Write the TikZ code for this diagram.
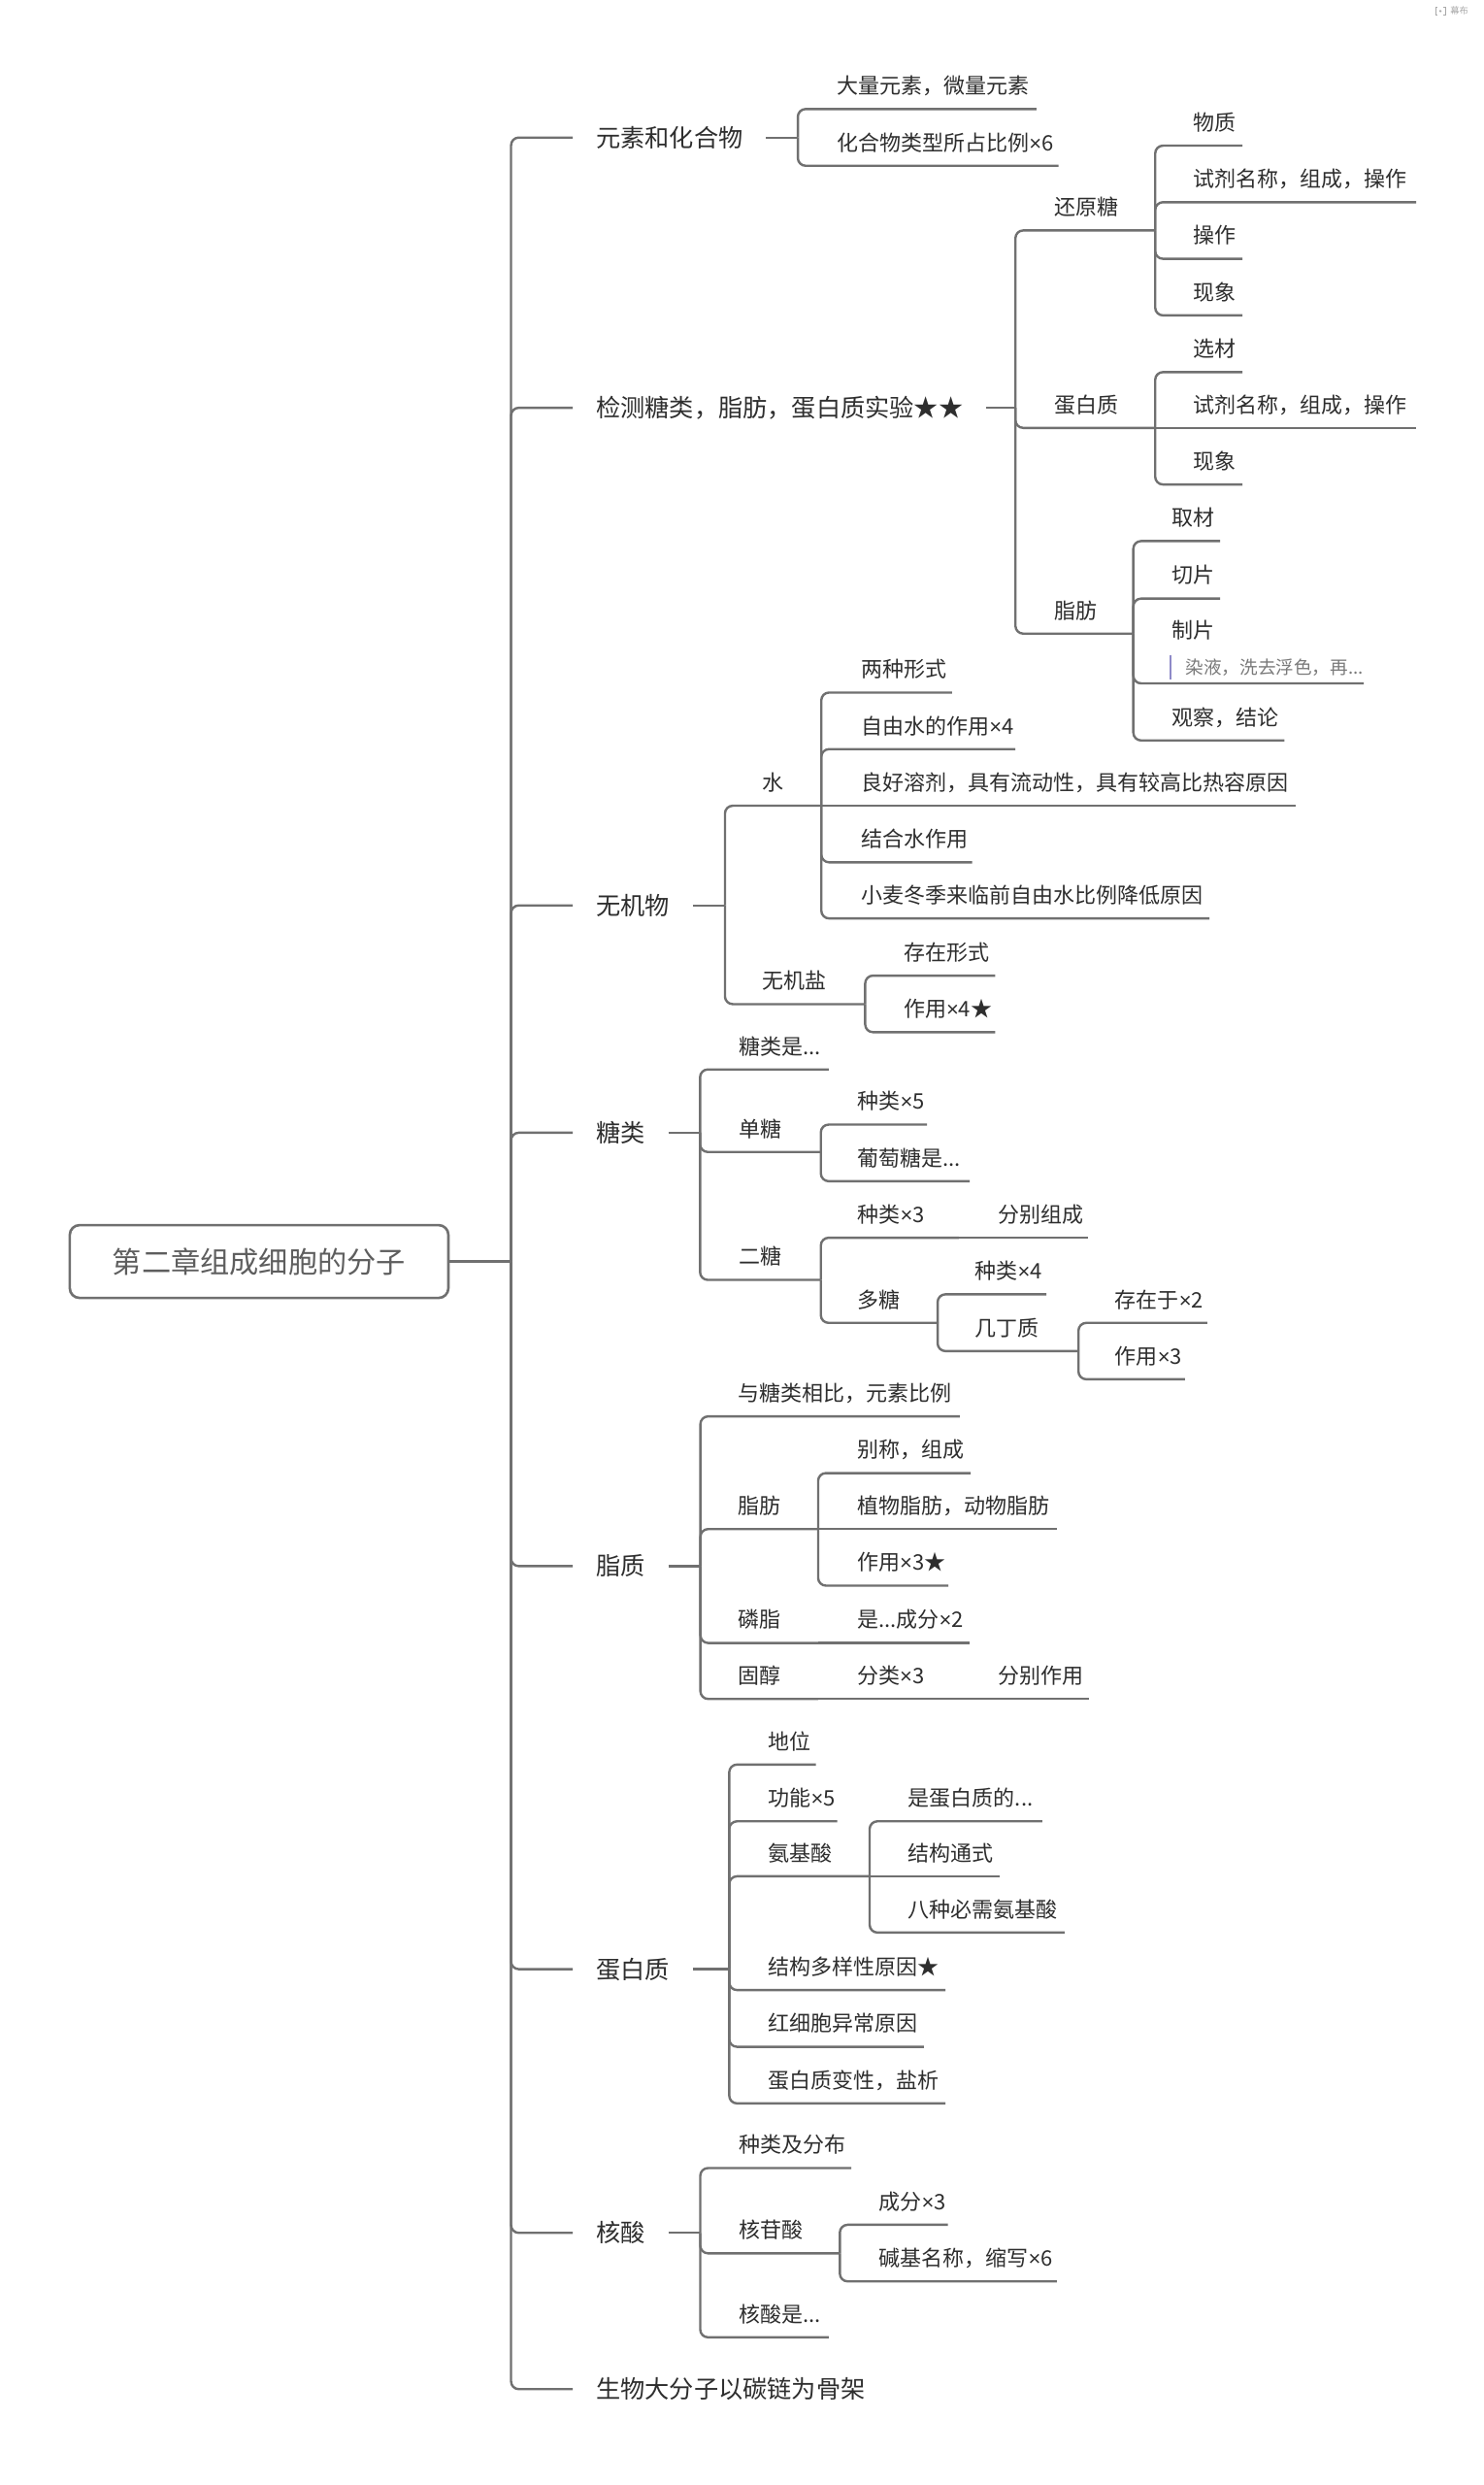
\documentclass[tikz,border=0pt]{standalone}
\usepackage{fontspec}
\newfontfamily\cjk{Noto Sans CJK SC}
\newfontfamily\latf{Liberation Sans}
\newcommand\tms{{\latf ×}}
\definecolor{lg}{HTML}{707070}
\definecolor{txc}{HTML}{2E2E2E}
\definecolor{rtc}{HTML}{5E5E5E}
\definecolor{ntc}{HTML}{7A7A7A}
\definecolor{barc}{HTML}{8E8AC8}
\definecolor{wmc}{HTML}{A8A8A8}
\tikzset{
 ln/.style={draw=lg, line width=1.2pt},
 br/.style={ln, rounded corners=4pt},
 tone/.style={font={\cjk\fontsize{12.6}{15}\selectfont}, text=txc, anchor=west, inner ysep=0pt, inner xsep=11.8pt, text height=10.4pt, text depth=0.9pt},
 ttwo/.style={font={\cjk\fontsize{11}{13}\selectfont}, text=txc, anchor=west, inner sep=0pt, text height=9.1pt, text depth=0.8pt},
 rootbox/.style={draw=lg, line width=1.3pt, rounded corners=5pt, minimum width=195pt, minimum height=37.5pt, font={\cjk\fontsize{15.1}{18}\selectfont}, text=rtc, inner sep=0pt},
 notetext/.style={font={\cjk\fontsize{9.3}{11}\selectfont}, text=ntc, anchor=west, inner sep=0pt, text height=7.7pt, text depth=0.7pt},
}
\newcommand\lone[3]{\node[tone] (#1) at (361.5,#2) {#3}; \draw[br] (J0) |- (#1.west);}
\newcommand\kid[6]{\node[ttwo] (#1) at (#3,{#4-14.7}) {#6}; \coordinate (#1-e) at (#5,#4); \draw[br] (#2) |- (#1-e);}
\newcommand\kids[6]{\node[ttwo] (#1) at (#3,{#4-14.7}) {#6}; \coordinate (#1-e) at (#5,#4); \draw[ln] (#2) -- (#1-e);}
\begin{document}
\begin{tikzpicture}[x=0.81625pt, y=-0.81625pt]
\useasboundingbox (0,0) rectangle (936,1568);
\fill[white] (0,0) rectangle (936,1568);
% watermark
\draw[wmc, line width=0.5pt] (907,4.5) -- (906,4.5) -- (906,9.5) -- (907,9.5);
\draw[wmc, line width=0.5pt] (911,4.5) -- (912,4.5) -- (912,9.5) -- (911,9.5);
\fill[wmc] (909,7) circle (0.8);
\node[font={\cjk\fontsize{4.6}{5}\selectfont}, text=wmc, inner sep=0pt, anchor=west] (wm) at (915,7) {幕布};
% root
\node[rootbox] (root) at (163.5,796) {第二章组成细胞的分子};
\coordinate (J0) at (322.5,796);
\draw[ln] (root.east) -- (J0);
% level 1
\lone{a}{86.8}{元素和化合物}
\lone{b}{257.3}{检测糖类，脂肪，蛋白质实验★★}
\lone{c}{571.3}{无机物}
\lone{d}{714.7}{糖类}
\lone{e}{988.2}{脂质}
\lone{f}{1242.5}{蛋白质}
\lone{g}{1408.9}{核酸}
\lone{h}{1507.5}{生物大分子以碳链为骨架}
\coordinate (Ja) at (503.5,86.8);
\coordinate (Jb) at (640.8,257.3);
\coordinate (Jc) at (457.5,571.3);
\coordinate (Jd) at (441.8,714.7);
\coordinate (Je) at (442,988.2);
\coordinate (Jf) at (460.2,1242.5);
\coordinate (Jg) at (441.9,1408.9);
\draw[ln] (a.east) -- (Ja);
\draw[ln] (b.east) -- (Jb);
\draw[ln] (c.east) -- (Jc);
\draw[ln] (d.east) -- (Jd);
\draw[ln] (e.east) -- (Je);
\draw[ln] (f.east) -- (Jf);
\draw[ln] (g.east) -- (Jg);
% 元素和化合物
\kid{a1}{Ja}{528}{68.8}{654}{大量元素，微量元素}
\kid{a2}{Ja}{528}{104.6}{668}{化合物类型所占比例\tms 6}
% 检测
\kid{b1}{Jb}{665}{145.4}{729}{还原糖}
\kid{b11}{b1-e}{753}{91.9}{784}{物质}
\kid{b12}{b1-e}{753}{127.6}{893.7}{试剂名称，组成，操作}
\kid{b13}{b1-e}{753}{163.3}{784}{操作}
\kid{b14}{b1-e}{753}{199}{784}{现象}
\kid{b2}{Jb}{665}{270}{729}{蛋白质}
\kid{b21}{b2-e}{753}{234.8}{784}{选材}
\kids{b22}{b2-e}{753}{270}{893.7}{试剂名称，组成，操作}
\kid{b23}{b2-e}{753}{305.7}{784}{现象}
\kid{b3}{Jb}{665}{399.8}{715.2}{脂肪}
\kid{b31}{b3-e}{739.4}{341.4}{770}{取材}
\kid{b32}{b3-e}{739.4}{377.7}{770}{切片}
\node[ttwo] (b33) at (739.4,397.7) {制片};
\node[notetext] (b33n) at (748,420.8) {染液，洗去浮色，再...};
\draw[barc, line width=1.1pt] (738.9,413.5) -- (738.9,428.5);
\coordinate (b33-e) at (860.6,431.2);
\draw[br] (b3-e) |- (b33-e);
\kid{b34}{b3-e}{739.4}{467.2}{810.5}{观察，结论}
% 无机物
\kid{c1}{Jc}{481}{508.4}{518.3}{水}
\kid{c11}{c1-e}{543.3}{437}{600.7}{两种形式}
\kid{c12}{c1-e}{543.3}{472.7}{640.8}{自由水的作用\tms 4}
\kids{c13}{c1-e}{543.3}{508.4}{817.6}{良好溶剂，具有流动性，具有较高比热容原因}
\kid{c14}{c1-e}{543.3}{544.1}{613.5}{结合水作用}
\kid{c15}{c1-e}{543.3}{579.5}{763.3}{小麦冬季来临前自由水比例降低原因}
\kid{c2}{Jc}{481}{633.6}{546}{无机盐}
\kid{c21}{c2-e}{570}{615.6}{628}{存在形式}
\kid{c22}{c2-e}{570}{651.3}{628}{作用\tms 4★}
% 糖类
\kid{d1}{Jd}{466}{674.8}{523}{糖类是...}
\kid{d2}{Jd}{466}{726.9}{518}{单糖}
\kid{d21}{d2-e}{541}{709.6}{585}{种类\tms 5}
\kid{d22}{d2-e}{541}{745.3}{612}{葡萄糖是...}
\kid{d3}{Jd}{466}{807.6}{518}{二糖}
\kid{d31}{d3-e}{541}{781}{605}{种类\tms 3}
\kids{d311}{d31-e}{629.8}{781}{686.7}{分别组成}
\kid{d32}{d3-e}{541}{834.7}{591.7}{多糖}
\kid{d321}{d32-e}{615}{816.7}{660.3}{种类\tms 4}
\kid{d322}{d32-e}{615}{852.5}{680.6}{几丁质}
\kid{d3221}{d322-e}{703.4}{834.7}{761.9}{存在于\tms 2}
\kid{d3222}{d322-e}{703.4}{870.3}{747.7}{作用\tms 3}
% 脂质
\kid{e1}{Je}{465.6}{893.7}{605.7}{与糖类相比，元素比例}
\kid{e2}{Je}{465.6}{964.8}{516.3}{脂肪}
\kid{e21}{e2-e}{540.7}{929.5}{612.5}{别称，组成}
\kids{e22}{e2-e}{540.7}{964.8}{667}{植物脂肪，动物脂肪}
\kid{e23}{e2-e}{540.7}{1000.5}{598.5}{作用\tms 3★}
\kid{e3}{Je}{465.6}{1036.7}{516.3}{磷脂}
\kids{e31}{e3-e}{540.7}{1036.7}{611.6}{是...成分\tms 2}
\kid{e4}{Je}{465.6}{1072}{516.3}{固醇}
\kids{e41}{e4-e}{540.7}{1072}{605}{分类\tms 3}
\kids{e411}{e41-e}{629.7}{1072}{687.5}{分别作用}
% 蛋白质
\kid{f1}{Jf}{484.6}{1113.4}{514.9}{地位}
\kid{f2}{Jf}{484.6}{1149.2}{528.3}{功能\tms 5}
\kid{f3}{Jf}{484.6}{1183.9}{548.8}{氨基酸}
\kid{f31}{f3-e}{573}{1149.2}{657.7}{是蛋白质的...}
\kids{f32}{f3-e}{573}{1183.9}{631}{结构通式}
\kid{f33}{f3-e}{573}{1219.4}{671.9}{八种必需氨基酸}
\kid{f4}{Jf}{484.6}{1255.7}{596.6}{结构多样性原因★}
\kid{f5}{Jf}{484.6}{1291.5}{583}{红细胞异常原因}
\kid{f6}{Jf}{484.6}{1327.2}{596.6}{蛋白质变性，盐析}
% 核酸
\kid{g1}{Jg}{466}{1368}{537.2}{种类及分布}
\kid{g2}{Jg}{466}{1421.8}{530}{核苷酸}
\kid{g21}{g2-e}{554.4}{1403.8}{598.2}{成分\tms 3}
\kid{g22}{g2-e}{554.4}{1439.5}{667}{碱基名称，缩写\tms 6}
\kid{g3}{Jg}{466}{1474.8}{523}{核酸是...}
\end{tikzpicture}
\end{document}
